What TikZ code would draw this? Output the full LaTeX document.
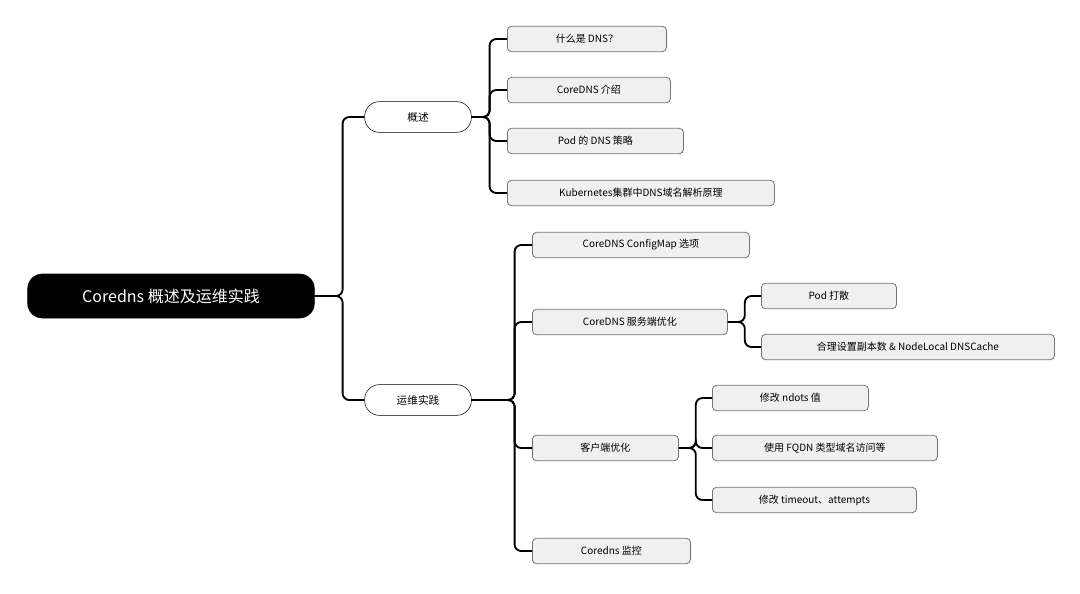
\documentclass[tikz,border=0pt]{standalone}
\usepackage{fontspec}
\setmainfont{Noto Sans CJK SC}
\usetikzlibrary{positioning}

\tikzset{
    root/.style={draw=black, fill=black, text=white, rounded corners=11pt, minimum width=215pt, minimum height=33pt, font=\fontsize{12}{14}\selectfont},
    topic/.style={draw=black, fill=white, rounded corners=11pt, minimum width=80pt, minimum height=23pt, font=\fontsize{8}{10}\selectfont},
    leaf/.style={draw=black!55, fill=black!6, rounded corners=3pt, minimum height=19pt, anchor=west, font=\fontsize{7.5}{9}\selectfont, line width=0.6pt},
    link/.style={line width=1.4pt, rounded corners=5pt},
}

\begin{document}
\begin{tikzpicture}[x=0.75pt, y=-0.75pt]
    \useasboundingbox (0,0) rectangle (1080,593);

    \node[root] (R) at (171,296) {Coredns 概述及运维实践};
    \node[topic] (A) at (418,117) {概述};
    \node[topic] (B) at (418,400) {运维实践};

    % 概述
    \node[leaf, minimum width=119.25pt] (A1) at (507,39) {什么是 DNS？};
    \node[leaf, minimum width=122.25pt] (A2) at (507,90) {CoreDNS 介绍};
    \node[leaf, minimum width=132pt] (A3) at (507,141) {Pod 的 DNS 策略};
    \node[leaf, minimum width=200.25pt] (A4) at (507,193) {Kubernetes集群中DNS域名解析原理};

    % 运维实践
    \node[leaf, minimum width=162.75pt] (B1) at (532,245) {CoreDNS ConfigMap 选项};
    \node[leaf, minimum width=146.25pt] (B2) at (532,322) {CoreDNS 服务端优化};
    \node[leaf, minimum width=109.5pt] (B3) at (532,448) {客户端优化};
    \node[leaf, minimum width=118.5pt] (B4) at (532,551) {Coredns 监控};

    \node[leaf, minimum width=101.25pt] (B21) at (761,296) {Pod 打散};
    \node[leaf, minimum width=219.75pt] (B22) at (761,347) {合理设置副本数 \& NodeLocal DNSCache};

    \node[leaf, minimum width=117pt] (B31) at (712,398) {修改 ndots 值};
    \node[leaf, minimum width=168.75pt] (B32) at (712,448) {使用 FQDN 类型域名访问等};
    \node[leaf, minimum width=153pt] (B33) at (712,500) {修改 timeout、attempts};

    \foreach \c in {A,B}
        \draw[link] (R.east) -- ++(28,0) |- (\c.west);
    \foreach \c in {A1,A2,A3,A4}
        \draw[link] (A.east) -- ++(18,0) |- (\c.west);
    \foreach \c in {B1,B2,B3,B4}
        \draw[link] (B.east) -- ++(43,0) |- (\c.west);
    \foreach \c in {B21,B22}
        \draw[link] (B2.east) -- ++(17,0) |- (\c.west);
    \foreach \c in {B31,B32,B33}
        \draw[link] (B3.east) -- ++(17,0) |- (\c.west);
\end{tikzpicture}
\end{document}
